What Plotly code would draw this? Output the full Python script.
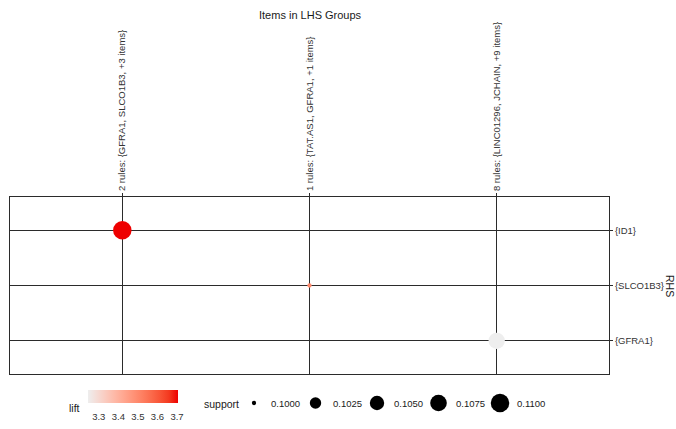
import numpy as np
import plotly.graph_objects as go

# ---- data -------------------------------------------------------------
lhs_groups = [
    "2 rules: {GFRA1, SLCO1B3, +3 items}",
    "1 rules: {TAT.AS1, GFRA1, +1 items}",
    "8 rules: {LINC01296, JCHAIN, +9 items}",
]
rhs_items = ["{GFRA1}", "{SLCO1B3}", "{ID1}"]          # bottom -> top

point_lhs = [lhs_groups[0], lhs_groups[1], lhs_groups[2]]
point_rhs = ["{ID1}", "{SLCO1B3}", "{GFRA1}"]
point_support = [0.1100, 0.1000, 0.1072]
point_lift = [3.705, 3.50, 3.245]

support_breaks = [0.1000, 0.1025, 0.1050, 0.1075, 0.1100]
lift_ticks = [3.3, 3.4, 3.5, 3.6, 3.7]

# ---- style ------------------------------------------------------------
W, H = 676, 429
FONT = "Liberation Sans, Arial, sans-serif"
LOW, HIGH = "#EEEEEE", "#EE0000"
LINE = "#2b2b2b"


def _hex_to_rgb(h):
    h = h.lstrip("#")
    return np.array([int(h[i:i + 2], 16) for i in (0, 2, 4)]) / 255.0


def _rgb_to_lab(rgb):
    c = np.where(rgb <= 0.04045, rgb / 12.92, ((rgb + 0.055) / 1.055) ** 2.4)
    m = np.array([[0.4124, 0.3576, 0.1805],
                  [0.2126, 0.7152, 0.0722],
                  [0.0193, 0.1192, 0.9505]])
    xyz = m @ c / np.array([0.95047, 1.0, 1.08883])
    f = np.where(xyz > 0.008856, np.cbrt(xyz), 7.787 * xyz + 16 / 116)
    return np.array([116 * f[1] - 16, 500 * (f[0] - f[1]), 200 * (f[1] - f[2])])


def _lab_to_hex(lab):
    fy = (lab[0] + 16) / 116
    fx = fy + lab[1] / 500
    fz = fy - lab[2] / 200
    f = np.array([fx, fy, fz])
    xyz = np.where(f ** 3 > 0.008856, f ** 3, (f - 16 / 116) / 7.787)
    xyz = xyz * np.array([0.95047, 1.0, 1.08883])
    mi = np.array([[3.2406, -1.5372, -0.4986],
                   [-0.9689, 1.8758, 0.0415],
                   [0.0557, -0.2040, 1.0570]])
    c = mi @ xyz
    c = np.where(c <= 0.0031308, 12.92 * c, 1.055 * np.clip(c, 0, None) ** (1 / 2.4) - 0.055)
    c = np.clip(np.round(c * 255), 0, 255).astype(int)
    return "#%02X%02X%02X" % tuple(c)


# gradient interpolated in CIELAB
lab_lo, lab_hi = _rgb_to_lab(_hex_to_rgb(LOW)), _rgb_to_lab(_hex_to_rgb(HIGH))
colorscale = [[t, _lab_to_hex(lab_lo + t * (lab_hi - lab_lo))] for t in np.linspace(0, 1, 11)]

s_min, s_max = min(point_support), max(point_support)
D_MIN, D_MAX = 4.3, 18.5


def diameter(s):
    t = (np.asarray(s, float) - s_min) / (s_max - s_min)
    return D_MIN + np.sqrt(np.clip(t, 0, 1)) * (D_MAX - D_MIN)


fig = go.Figure()

fig.add_trace(go.Scatter(
    x=point_lhs, y=point_rhs, mode="markers",
    marker=dict(
        size=diameter(point_support), color=point_lift,
        colorscale=colorscale, cmin=min(point_lift), cmax=max(point_lift),
        line=dict(width=0), opacity=1,
        colorbar=dict(
            orientation="h", x=133 / W, xanchor="center",
            y=(H - 390) / H, yanchor="top",
            len=90, lenmode="pixels", thickness=13,
            xpad=0, ypad=0, outlinewidth=0,
            tickvals=lift_ticks, ticktext=[f"{v:.1f}" for v in lift_ticks],
            ticks="outside", ticklen=6, tickcolor="white", tickwidth=1,
            tickfont=dict(size=9.5, color="#333333", family=FONT),
        ),
    ),
    showlegend=False, hoverinfo="skip",
))

# support legend on its own hidden axes (pixel-like frame at the bottom)
leg_x = [254 + 61.5 * i for i in range(len(support_breaks))]
leg_y = [H - 403] * len(support_breaks)
fig.add_trace(go.Scatter(
    x=leg_x, y=leg_y, mode="markers", xaxis="x2", yaxis="y2",
    marker=dict(size=diameter(support_breaks), color="#000000", opacity=1,
                line=dict(width=0, color="#000000")),
    opacity=1, showlegend=False, hoverinfo="skip",
))

annotations = []
for xv, s in zip(leg_x, support_breaks):
    annotations.append(dict(x=xv + 15, y=H - 403, xref="x2", yref="y2",
                            text=f"{s:.4f}", showarrow=False, xanchor="left",
                            yanchor="middle", font=dict(size=9.5, color="#1a1a1a", family=FONT)))
annotations.append(dict(x=221, y=H - 404, xref="x2", yref="y2", text="support",
                        showarrow=False, xanchor="center", yanchor="middle",
                        font=dict(size=10.5, color="#1a1a1a", family=FONT)))
annotations.append(dict(x=74, y=H - 408, xref="x2", yref="y2", text="lift",
                        showarrow=False, xanchor="center", yanchor="middle",
                        font=dict(size=10.5, color="#1a1a1a", family=FONT)))
annotations.append(dict(x=670 / W, y=1 - 286 / H, xref="paper", yref="paper", text="RHS",
                        textangle=90, showarrow=False, xanchor="center", yanchor="middle",
                        font=dict(size=10.5, color="#1a1a1a", family=FONT)))
annotations.append(dict(x=310 / W, y=1 - 15 / H, xref="paper", yref="paper",
                        text="Items in LHS Groups", showarrow=False,
                        xanchor="center", yanchor="middle",
                        font=dict(size=11, color="#1a1a1a", family=FONT)))

axis_common = dict(
    showgrid=True, gridcolor=LINE, gridwidth=1, zeroline=False,
    showline=True, linecolor=LINE, linewidth=1, mirror=True,
    ticks="outside", ticklen=3, tickcolor=LINE,
    tickfont=dict(size=9.5, color="#333333", family=FONT),
    type="category", fixedrange=True,
)

fig.update_layout(
    width=W, height=H,
    margin=dict(l=0, r=0, t=0, b=0),
    paper_bgcolor="white", plot_bgcolor="white",
    xaxis=dict(axis_common, domain=[10 / W, 609 / W], side="top", tickangle=-90,
               categoryorder="array", categoryarray=lhs_groups, range=[-0.6, 2.6]),
    yaxis=dict(axis_common, domain=[55 / H, 232 / H], side="right",
               categoryorder="array", categoryarray=rhs_items, range=[-0.6, 2.6]),
    xaxis2=dict(domain=[0, 1], range=[0, W], visible=False, anchor="y2", fixedrange=True),
    yaxis2=dict(domain=[0, 55 / H], range=[0, 55], visible=False, anchor="x2", fixedrange=True),
    annotations=annotations,
    font=dict(family=FONT),
)

fig.write_html("out.html")
